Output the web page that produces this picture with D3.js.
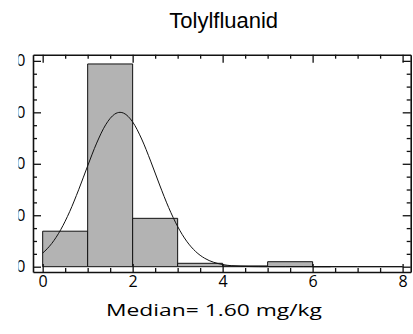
<!DOCTYPE html>
<html>
<head>
<meta charset="utf-8">
<script src="https://cdn.jsdelivr.net/npm/d3@7"></script>
<style>
  html, body { margin: 0; padding: 0; background: #fff; }
  svg { display: block; }
</style>
</head>
<body>
<div id="chart"></div>
<script>
// Histogram of residue concentrations (mg/kg), bin width 1
const binStarts = [0, 1, 2, 3, 4, 5, 6, 7];
const binCounts = [6.9, 39.4, 9.4, 0.66, 0.15, 0.97, 0, 0];

// Fitted normal curve, sampled points [x, y]
const curveX = [0, 0.2, 0.4, 0.6, 0.8, 1.0, 1.2, 1.4, 1.6, 1.72, 1.8, 2.0, 2.2, 2.4, 2.6, 2.8,
                3.0, 3.2, 3.4, 3.6, 3.8, 4.0, 4.2, 4.4, 4.6, 4.8, 5.0, 5.4, 5.8, 6.2, 6.4];
const curveY = [2.64, 4.49, 7.17, 10.70, 14.96, 19.59, 24.02, 27.58, 29.65, 30.0, 29.84, 28.13, 24.82, 20.52, 15.88, 11.50,
                7.81, 4.96, 2.95, 1.64, 0.86, 0.42, 0.19, 0.08, 0.03, 0.01, 0, 0, 0, 0, 0];

const xMajorTicks = [0, 2, 4, 6, 8];
const xTickLabels = ["0", "2", "4", "6", "8"];
const yMajorTicks = [0, 10, 20, 30, 40];
const yTickLabels = ["0", "10", "20", "30", "40"];

const titleText = "Tolylfluanid";
const xTitleText = "Median= 1.60 mg/kg";

const W = 413, H = 334;
const frame = { left: 33, right: 410.7, top: 54.7, bottom: 272 };

const svg = d3.select("#chart").append("svg")
  .attr("width", W).attr("height", H);

const x = d3.scaleLinear().domain([-0.215, 8.18]).range([frame.left, frame.right]);
const y = d3.scaleLinear().domain([-1.03, 41.2]).range([frame.bottom, frame.top]);

const xMinor = d3.range(0, 8.01, 0.5).filter(v => !xMajorTicks.includes(v));
const yMinor = d3.range(0, 40.01, 2.5).filter(v => !yMajorTicks.includes(v));

// Bars drawn as closed paths so empty bins still show their outline
svg.append("g").selectAll("path")
  .data(binStarts.map((s, i) => ({ s, v: binCounts[i] })))
  .join("path")
  .attr("d", d => `M${x(d.s)},${y(0)}V${y(d.v)}H${x(d.s + 1)}V${y(0)}Z`)
  .attr("fill", "#b3b3b3")
  .attr("stroke", "#111")
  .attr("stroke-width", 1);

// Normal curve
const line = d3.line().x(d => x(d[0])).y(d => y(d[1])).curve(d3.curveMonotoneX);
svg.append("path")
  .datum(curveX.map((v, i) => [v, curveY[i]]))
  .attr("d", line)
  .attr("fill", "none")
  .attr("stroke", "#111")
  .attr("stroke-width", 1);

const tickFont = "'Open Sans', 'DejaVu Sans', sans-serif";
const tickSize = "16px";
const tickWeight = 400;

function styleAxis(g) {
  g.select(".domain").attr("stroke", "#111").attr("stroke-width", 1.6);
  g.selectAll(".tick line").attr("stroke", "#111").attr("stroke-width", 1.3);
  g.selectAll("text").attr("fill", "#000").style("font-family", tickFont)
    .style("font-size", tickSize).style("font-weight", tickWeight);
}
function minorOnly(g) {
  g.select(".domain").remove();
  g.selectAll(".tick line").attr("stroke", "#111").attr("stroke-width", 1.3);
}

// Bottom axis: major with labels, minor ticks only
const gB = svg.append("g").attr("transform", `translate(0,${frame.bottom})`)
  .call(d3.axisBottom(x).tickValues(xMajorTicks).tickFormat((d, i) => xTickLabels[i])
    .tickSizeInner(-8).tickSizeOuter(0).tickPadding(4));
styleAxis(gB);
svg.append("g").attr("transform", `translate(0,${frame.bottom})`)
  .call(d3.axisBottom(x).tickValues(xMinor).tickFormat("").tickSizeInner(-4).tickSizeOuter(0))
  .call(minorOnly);

// Top axis: ticks only
const gT = svg.append("g").attr("transform", `translate(0,${frame.top})`)
  .call(d3.axisTop(x).tickValues(xMajorTicks).tickFormat("").tickSizeInner(-8).tickSizeOuter(0));
styleAxis(gT);
svg.append("g").attr("transform", `translate(0,${frame.top})`)
  .call(d3.axisTop(x).tickValues(xMinor).tickFormat("").tickSizeInner(-4).tickSizeOuter(0))
  .call(minorOnly);

// Left axis; its labels are clipped along the left edge
svg.append("clipPath").attr("id", "ylabclip")
  .append("rect").attr("x", 18.5).attr("y", 0).attr("width", W).attr("height", H);
const gL = svg.append("g").attr("transform", `translate(${frame.left},0)`)
  .call(d3.axisLeft(y).tickValues(yMajorTicks).tickFormat((d, i) => yTickLabels[i])
    .tickSizeInner(-8).tickSizeOuter(0).tickPadding(7.5));
styleAxis(gL);
const labelsWrap = svg.append("g").attr("clip-path", "url(#ylabclip)");
gL.selectAll(".tick").each(function() {
  const t = d3.select(this);
  const txt = t.select("text");
  labelsWrap.append("text")
    .attr("transform", `translate(${frame.left},0) ${t.attr("transform")}`)
    .attr("x", txt.attr("x")).attr("dy", txt.attr("dy"))
    .attr("text-anchor", "end")
    .attr("fill", "#000")
    .style("font-family", tickFont).style("font-size", tickSize).style("font-weight", tickWeight)
    .text(txt.text());
  txt.remove();
});
svg.append("g").attr("transform", `translate(${frame.left},0)`)
  .call(d3.axisLeft(y).tickValues(yMinor).tickFormat("").tickSizeInner(-4).tickSizeOuter(0))
  .call(minorOnly);

// Right axis: ticks only
const gR = svg.append("g").attr("transform", `translate(${frame.right},0)`)
  .call(d3.axisRight(y).tickValues(yMajorTicks).tickFormat("").tickSizeInner(-8).tickSizeOuter(0));
styleAxis(gR);
svg.append("g").attr("transform", `translate(${frame.right},0)`)
  .call(d3.axisRight(y).tickValues(yMinor).tickFormat("").tickSizeInner(-4).tickSizeOuter(0))
  .call(minorOnly);

// Title
svg.append("text")
  .attr("x", 223.7).attr("y", 27.5)
  .attr("text-anchor", "middle")
  .attr("fill", "#000")
  .style("font-family", "'Liberation Sans', Arial, sans-serif")
  .style("font-size", "22px")
  .text(titleText);

// X axis title
svg.append("text")
  .attr("x", 106).attr("y", 316)
  .attr("textLength", 216)
  .attr("lengthAdjust", "spacingAndGlyphs")
  .attr("fill", "#000")
  .style("font-family", tickFont)
  .style("font-size", "17px")
  .style("font-weight", 400)
  .text(xTitleText);
</script>
</body>
</html>
